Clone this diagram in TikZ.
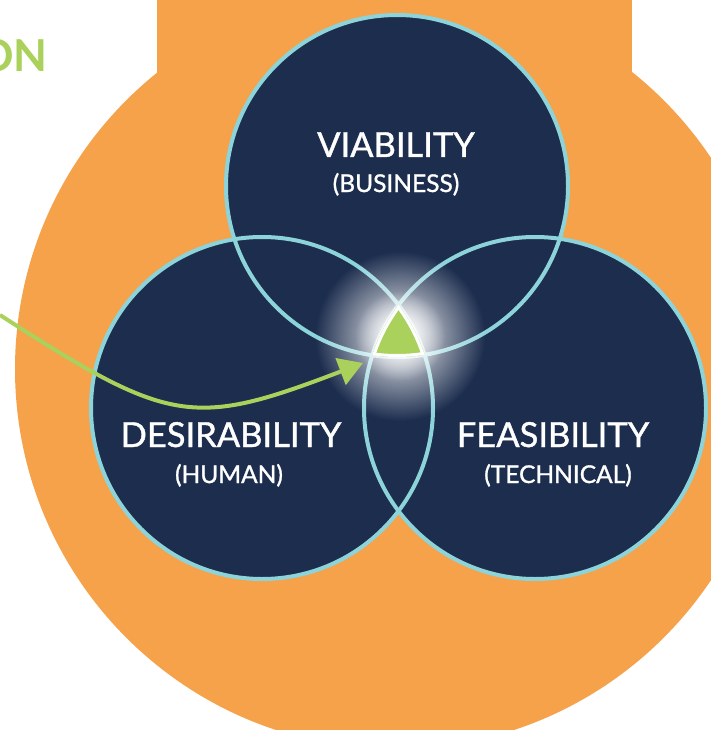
\documentclass[tikz,border=0pt]{standalone}
\usepackage{fontspec}
\setmainfont{Lato}
\newfontfamily\medfont{Lato}[FakeBold=1.2]
\usetikzlibrary{arrows.meta, fadings}

\definecolor{orng}{HTML}{F5A24A}
\definecolor{navy}{HTML}{1C2D4E}
\definecolor{ring}{HTML}{8DD3DA}
\definecolor{lime}{HTML}{A9D15B}

\tikzfading[name=glowfade, inner color=transparent!0, outer color=transparent!100]

\tikzset{
	rim/.style = {draw=ring, line width=4pt},
	lbl/.style = {anchor=base, text=white, font=\medfont\fontsize{34.5}{40}\selectfont},
	sublbl/.style = {anchor=base, text=white, font=\medfont\fontsize{24.5}{28}\selectfont}
}

\begin{document}
\begin{tikzpicture}[x=1pt, y=-1pt]
		\useasboundingbox (0,0) rectangle (711,730);
		\clip (0,0) rectangle (711,730);
		
		% orange backdrop
		\fill [orng] (395,369) circle [radius=380pt];
		\fill [orng] (157,-5) rectangle (632,100);
		
		\coordinate (T) at (397,186);
		\coordinate (D) at (262,408);
		\coordinate (F) at (535,408);
		
		\foreach \c in {T,D,F} \fill [navy] (\c) circle [radius=171pt];
		\foreach \c in {T,D,F} \draw [rim] (\c) circle [radius=171pt];
		
		% glow
		\fill [white, path fading=glowfade] (400,336) circle [radius=85pt];
		\fill [white, path fading=glowfade] (400,336) circle [radius=45pt];
		
		% sweet spot
		\begin{scope}
			\clip (T) circle [radius=171pt];
			\clip (D) circle [radius=171pt];
			\clip (F) circle [radius=171pt];
			\fill [lime] (F) circle [radius=171pt];
			\foreach \c in {T,D,F} \draw [white, line width=6pt] (\c) circle [radius=171pt];
		\end{scope}
		
		\node (via) at (396,157) [lbl] {VIABILITY};
		\node (viasub) at (396,192) [sublbl] {(BUSINESS)};
		\node (des) at (231,447) [lbl] {DESIRABILITY};
		\node (dessub) at (229,483) [sublbl] {(HUMAN)};
		\node (fea) at (553,447) [lbl] {FEASIBILITY};
		\node (feasub) at (558,483) [sublbl] {(TECHNICAL)};
		
		\node (on) at (51,72) [anchor=base east, text=lime, font=\fontsize{44}{50}\selectfont\bfseries] {ON};
		
		\coordinate (arrowstart) at (0,315);
		\coordinate (arrowtip) at (363,363);
		\draw [lime, line width=4pt, -{Triangle[length=24pt, width=28pt]}] (arrowstart) .. controls (170,425) and (193,428) .. (arrowtip);
\end{tikzpicture}
\end{document}
